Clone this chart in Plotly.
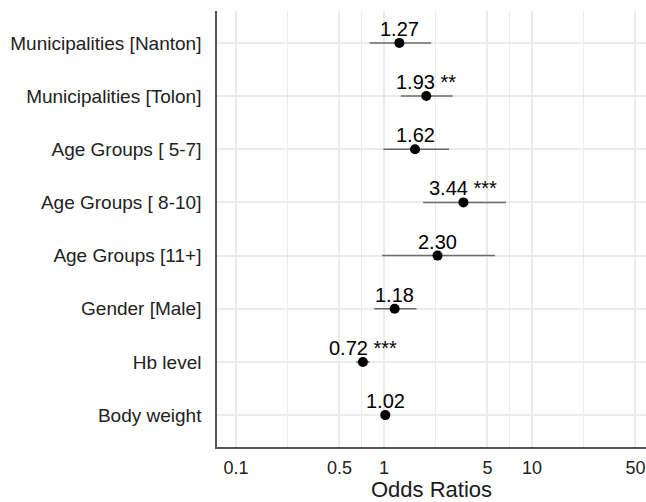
import math
import plotly.graph_objects as go

terms = ["Municipalities [Nanton]", "Municipalities [Tolon]", "Age Groups [ 5-7]",
         "Age Groups [ 8-10]", "Age Groups [11+]", "Gender [Male]", "Hb level", "Body weight"]
odds = [1.27, 1.93, 1.62, 3.44, 2.30, 1.18, 0.72, 1.02]
ci_low = [0.80, 1.30, 0.99, 1.84, 0.97, 0.86, 0.65, 0.99]
ci_high = [2.08, 2.91, 2.75, 6.67, 5.62, 1.66, 0.80, 1.05]
stars = ["", "**", "", "***", "", "", "***", ""]
tick_vals = [0.1, 0.5, 1, 5, 10, 50]
tick_text = ["0.1", "0.5", "1", "5", "10", "50"]

FONT = "Liberation Sans, Arial, sans-serif"
GRID = "#EBEBEB"

fig = go.Figure()

# confidence interval lines
for t, lo, hi in zip(terms, ci_low, ci_high):
    fig.add_trace(go.Scatter(x=[lo, hi], y=[t, t], mode="lines",
                             line=dict(color="#6b6b6b", width=1.5),
                             showlegend=False, hoverinfo="skip"))

fig.add_trace(go.Scatter(x=odds, y=terms, mode="markers",
                         marker=dict(color="black", size=10),
                         showlegend=False))

for t, o, s in zip(terms, odds, stars):
    label = f"{o:.2f}" + (f" {s}" if s else "")
    fig.add_annotation(x=math.log10(o), y=t, text=label, showarrow=False,
                       xanchor="center", yanchor="bottom", yshift=1,
                       font=dict(family=FONT, size=20, color="black"))

# white reference line at 1
fig.add_shape(type="line", xref="x", yref="paper", x0=1, x1=1, y0=0, y1=1,
              line=dict(color="white", width=3), layer="between")

minor_vals = [math.sqrt(a * b) for a, b in zip(tick_vals[:-1], tick_vals[1:])]

fig.update_layout(
    width=646, height=502,
    margin=dict(l=217, r=0, t=11, b=55),
    paper_bgcolor="white", plot_bgcolor="white",
    font=dict(family=FONT),
    showlegend=False,
    xaxis=dict(
        type="log",
        range=[math.log10(0.0744), math.log10(58.9)],
        tickmode="array", tickvals=tick_vals, ticktext=tick_text,
        tickfont=dict(size=18, color="#222222"),
        showgrid=True, gridcolor=GRID, gridwidth=1.5,
        minor=dict(tickmode="array", tickvals=minor_vals, showgrid=True,
                   gridcolor=GRID, gridwidth=1, ticks=""),
        showline=True, linecolor="#555555", linewidth=1.5,
        zeroline=False, ticks="",
        ticklabelstandoff=4,
        title=dict(text="Odds Ratios", font=dict(size=22, color="#1a1a1a"), standoff=6),
    ),
    yaxis=dict(
        type="category",
        categoryorder="array", categoryarray=terms,
        range=[len(terms) - 0.4, -0.6],
        tickfont=dict(size=19, color="#222222"),
        showgrid=True, gridcolor=GRID, gridwidth=1.5,
        showline=True, linecolor="#555555", linewidth=1.5,
        zeroline=False, ticks="",
        ticklabelstandoff=10,
    ),
)

fig.write_html("out.html")
